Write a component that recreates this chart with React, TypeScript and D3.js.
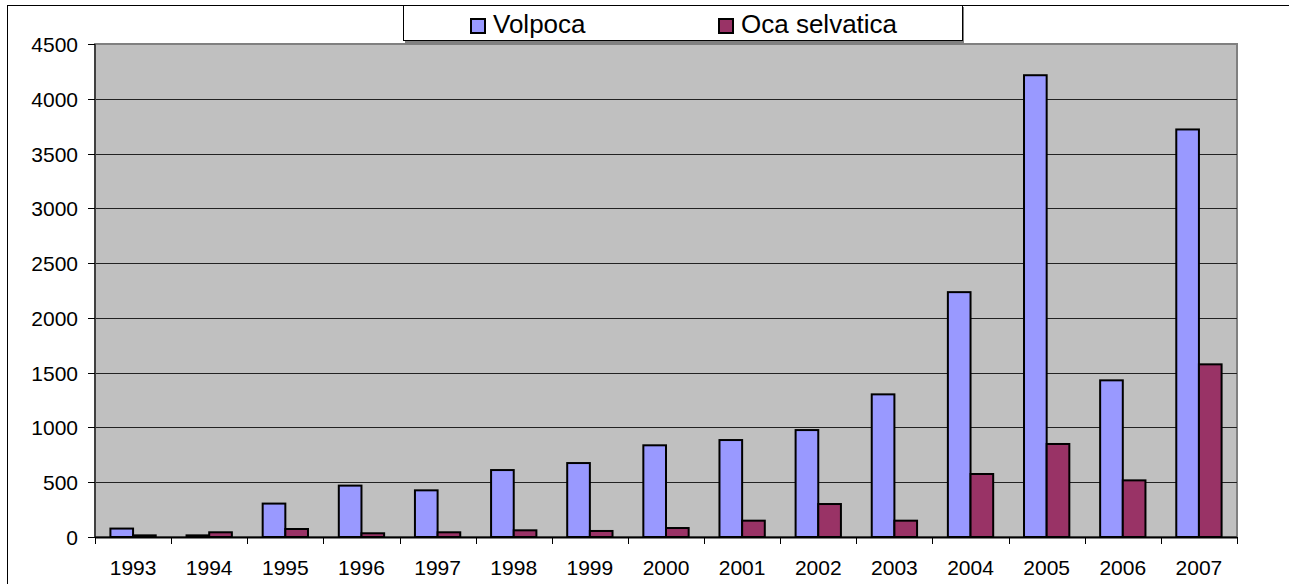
import React from "react";
import { scaleBand, scaleLinear, range } from "d3";

const years = ["1993", "1994", "1995", "1996", "1997", "1998", "1999", "2000", "2001", "2002", "2003", "2004", "2005", "2006", "2007"];
const volpoca = [77, 15, 305, 469, 426, 611, 675, 837, 885, 976, 1302, 2235, 4215, 1430, 3720];
const ocaSelvatica = [15, 43, 73, 34, 43, 61, 55, 82, 149, 301, 149, 575, 849, 517, 1576];
const yTicks = [0, 500, 1000, 1500, 2000, 2500, 3000, 3500, 4000, 4500];

const seriesNames = ["Volpoca", "Oca selvatica"];
const colors = ["#9999FF", "#993366"];

const W = 1289;
const H = 584;
const left = 95;
const right = 1237;
const top = 44;
const bottom = 537;

export default function App() {
  const x = scaleBand<string>().domain(years).range([left, right]);
  const inner = scaleBand<number>().domain([0, 1]).range([0, x.bandwidth()]).paddingOuter(0.68).paddingInner(0);
  const y = scaleLinear().domain([0, 4500]).range([bottom, top]);
  const series = [volpoca, ocaSelvatica];
  const font = "Arial, 'Liberation Sans', sans-serif";

  return (
    <svg width={W} height={H} style={{ position: "absolute", left: 0, top: 0, background: "#fff" }} fontFamily={font}>
      {/* outer chart frame, clipped at right/bottom */}
      <rect x={7.5} y={5.5} width={W + 20} height={H + 20} fill="#fff" stroke="#000" strokeWidth={1} />

      {/* plot area */}
      <rect x={left} y={top} width={right - left} height={bottom - top} fill="#C0C0C0" stroke="#808080" strokeWidth={2} />
      {yTicks.slice(1, -1).map((t) => (
        <line key={t} x1={left} x2={right} y1={Math.round(y(t)) + 0.5} y2={Math.round(y(t)) + 0.5} stroke="#222" strokeWidth={1} />
      ))}

      {/* bars */}
      {series.map((vals, si) =>
        vals.map((v, i) => (
          <rect
            key={`${si}-${i}`}
            x={x(years[i])! + inner(si)!}
            y={y(v)}
            width={inner.bandwidth()}
            height={bottom - y(v)}
            fill={colors[si]}
            stroke="#000"
            strokeWidth={2}
          />
        ))
      )}

      {/* y axis */}
      <line x1={left} x2={left} y1={top} y2={bottom} stroke="#404040" strokeWidth={2} />
      {yTicks.map((t) => (
        <g key={t} transform={`translate(0,${Math.round(y(t)) + 0.5})`}>
          <line x1={88} x2={left} stroke="#000" />
          <text x={78} dy="0.36em" textAnchor="end" fontSize={21} fill="#000">{t}</text>
        </g>
      ))}

      {/* x axis */}
      <line x1={left} x2={right} y1={bottom + 0.5} y2={bottom + 0.5} stroke="#000" strokeWidth={2} />
      {range(years.length + 1).map((i) => {
        const xx = Math.round(left + i * x.step()) + 0.5;
        return <line key={i} x1={xx} x2={xx} y1={bottom} y2={bottom + 7} stroke="#000" />;
      })}
      {years.map((yr) => (
        <text key={yr} x={x(yr)! + x.bandwidth() / 2} y={575} textAnchor="middle" fontSize={21} fill="#000">{yr}</text>
      ))}

      {/* legend */}
      <rect x={405} y={7} width={559} height={36} fill="#808080" />
      <rect x={403.5} y={5.5} width={559} height={35} fill="#fff" stroke="#000" strokeWidth={1} />
      {seriesNames.map((name, i) => {
        const lx = i === 0 ? 470 : 718;
        return (
          <g key={name}>
            <rect x={lx + 1} y={19} width={14} height={14} fill={colors[i]} stroke="#000" strokeWidth={2} />
            <text x={lx + 23} y={33} fontSize={26} fill="#000">{name}</text>
          </g>
        );
      })}
    </svg>
  );
}
